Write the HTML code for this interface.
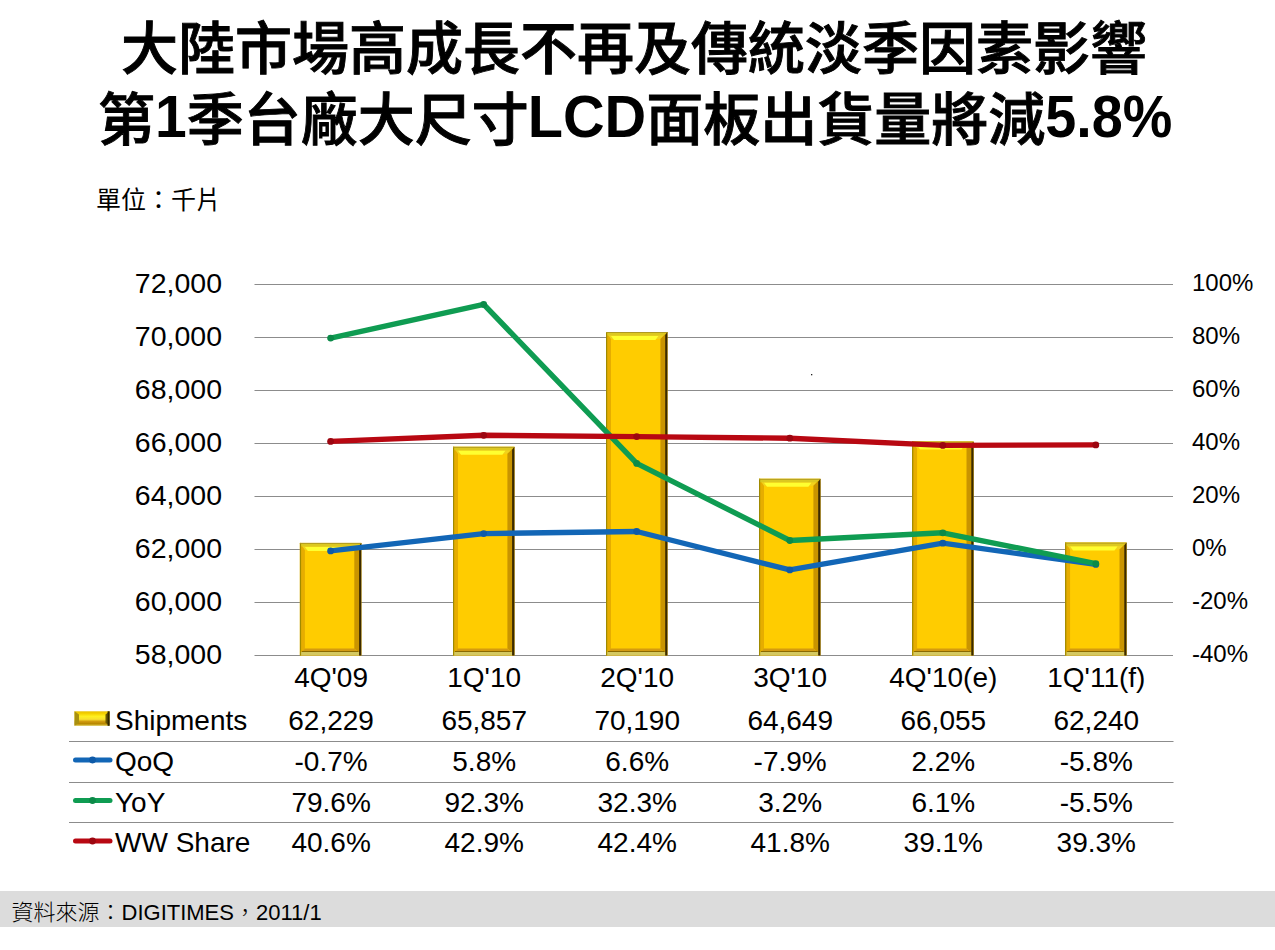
<!DOCTYPE html>
<html><head><meta charset="utf-8"><title>LCD shipments</title>
<style>
html,body{margin:0;padding:0;background:#fff;}
body{width:1275px;height:950px;overflow:hidden;position:relative;}
svg{position:absolute;left:0;top:0;}
.n{font-family:"Liberation Sans",Arial,sans-serif;font-size:28px;fill:#000;}
.ax{font-size:28.5px;}
.rx{font-size:24px;}
.ttl{font-family:"Liberation Sans","Noto Sans CJK TC",sans-serif;font-size:57px;font-weight:500;fill:#000;stroke:#000;stroke-width:0.9px;}
.lb{font-weight:700;stroke-width:0;font-size:60px;}
.unit{font-family:"Liberation Sans","Noto Sans CJK TC",sans-serif;font-size:25px;fill:#000;}
.src{font-family:"Liberation Sans","Noto Sans CJK TC",sans-serif;font-size:22px;fill:#000;}
.srcc{font-family:"Liberation Sans","Noto Sans CJK TC",sans-serif;font-size:22px;font-weight:300;fill:#000;}
</style></head><body>
<svg width="1275" height="950" viewBox="0 0 1275 950">
<defs>
<linearGradient id="legbar" x1="0" y1="0" x2="0" y2="1"><stop offset="0" stop-color="#e8c000"/><stop offset="0.15" stop-color="#f4d000"/><stop offset="0.35" stop-color="#fff020"/><stop offset="0.55" stop-color="#f8e030"/><stop offset="0.7" stop-color="#d09a10"/><stop offset="0.85" stop-color="#b88800"/><stop offset="1" stop-color="#d8c040"/></linearGradient>
</defs>
<text class="ttl" x="121" y="69">大陸市場高成長不再及傳統淡季因素影響</text>
<text class="ttl" x="98" y="140.3">第<tspan class="lb" dy="-3.8" textLength="31.7" lengthAdjust="spacingAndGlyphs">1</tspan><tspan dy="3.8">季台廠大尺寸</tspan><tspan class="lb" dx="-1" dy="-3.8" textLength="118.5" lengthAdjust="spacingAndGlyphs">LCD</tspan><tspan dy="3.8">面板出貨量將減</tspan><tspan class="lb" dy="-3.8" textLength="127" lengthAdjust="spacingAndGlyphs">5.8%</tspan></text>
<text class="unit" x="96" y="208.5">單位：千片</text>
<line x1="254.5" y1="284.5" x2="1173" y2="284.5" stroke="#8c8c8c" stroke-width="1.2"/>
<line x1="254.5" y1="337.5" x2="1173" y2="337.5" stroke="#8c8c8c" stroke-width="1.2"/>
<line x1="254.5" y1="390.5" x2="1173" y2="390.5" stroke="#8c8c8c" stroke-width="1.2"/>
<line x1="254.5" y1="443.5" x2="1173" y2="443.5" stroke="#8c8c8c" stroke-width="1.2"/>
<line x1="254.5" y1="496.5" x2="1173" y2="496.5" stroke="#8c8c8c" stroke-width="1.2"/>
<line x1="254.5" y1="549.5" x2="1173" y2="549.5" stroke="#8c8c8c" stroke-width="1.2"/>
<line x1="254.5" y1="602.5" x2="1173" y2="602.5" stroke="#8c8c8c" stroke-width="1.2"/>
<line x1="254.5" y1="655.5" x2="1173" y2="655.5" stroke="#8c8c8c" stroke-width="1.2"/>
<line x1="69" y1="741.5" x2="1173.5" y2="741.5" stroke="#8c8c8c" stroke-width="1.2"/>
<line x1="69" y1="782.5" x2="1173.5" y2="782.5" stroke="#8c8c8c" stroke-width="1.2"/>
<line x1="69" y1="822.5" x2="1173.5" y2="822.5" stroke="#8c8c8c" stroke-width="1.2"/>
<g><rect x="299.9" y="542.9" width="61.4" height="112.6" fill="#ffcc00"/><polygon points="299.9,542.9 304.9,547.9 304.9,650.5 299.9,655.5" fill="#e6ad00"/><polygon points="299.9,542.9 361.3,542.9 354.3,549.9 304.9,549.9" fill="#f2d21c"/><rect x="300.9" y="543.4" width="58.4" height="3" fill="#dcc820"/><polygon points="304.9,546.9 352.3,546.9 349.3,550.9 307.9,550.9" fill="#ffff30"/><polygon points="361.3,542.9 361.3,655.5 354.3,648.5 354.3,549.9" fill="#c99400"/><polygon points="299.9,655.5 361.3,655.5 354.3,648.5 304.9,648.5" fill="#d49a10"/><rect x="300.9" y="652.0" width="58.4" height="3.5" fill="#d4c860"/><line x1="301.9" y1="651.5" x2="358.3" y2="651.5" stroke="#8a6a00" stroke-width="1"/><line x1="300.5" y1="542.9" x2="300.5" y2="655.5" stroke="#a08a00" stroke-width="1.2"/><line x1="299.9" y1="543.4" x2="361.3" y2="543.4" stroke="#b09a20" stroke-width="1"/><polygon points="359.1,545.9 361.3,542.9 361.3,655.5 359.1,655.5" fill="#3a2a00"/></g>
<g><rect x="453.0" y="446.8" width="61.4" height="208.7" fill="#ffcc00"/><polygon points="453.0,446.8 458.0,451.8 458.0,650.5 453.0,655.5" fill="#e6ad00"/><polygon points="453.0,446.8 514.4,446.8 507.4,453.8 458.0,453.8" fill="#f2d21c"/><rect x="454.0" y="447.3" width="58.4" height="3" fill="#dcc820"/><polygon points="458.0,450.8 505.4,450.8 502.4,454.8 461.0,454.8" fill="#ffff30"/><polygon points="514.4,446.8 514.4,655.5 507.4,648.5 507.4,453.8" fill="#c99400"/><polygon points="453.0,655.5 514.4,655.5 507.4,648.5 458.0,648.5" fill="#d49a10"/><rect x="454.0" y="652.0" width="58.4" height="3.5" fill="#d4c860"/><line x1="455.0" y1="651.5" x2="511.4" y2="651.5" stroke="#8a6a00" stroke-width="1"/><line x1="453.6" y1="446.8" x2="453.6" y2="655.5" stroke="#a08a00" stroke-width="1.2"/><line x1="453.0" y1="447.3" x2="514.4" y2="447.3" stroke="#b09a20" stroke-width="1"/><polygon points="512.1,449.8 514.4,446.8 514.4,655.5 512.1,655.5" fill="#3a2a00"/></g>
<g><rect x="606.0" y="332.0" width="61.4" height="323.5" fill="#ffcc00"/><polygon points="606.0,332.0 611.0,337.0 611.0,650.5 606.0,655.5" fill="#e6ad00"/><polygon points="606.0,332.0 667.4,332.0 660.4,339.0 611.0,339.0" fill="#f2d21c"/><rect x="607.0" y="332.5" width="58.4" height="3" fill="#dcc820"/><polygon points="611.0,336.0 658.4,336.0 655.4,340.0 614.0,340.0" fill="#ffff30"/><polygon points="667.4,332.0 667.4,655.5 660.4,648.5 660.4,339.0" fill="#c99400"/><polygon points="606.0,655.5 667.4,655.5 660.4,648.5 611.0,648.5" fill="#d49a10"/><rect x="607.0" y="652.0" width="58.4" height="3.5" fill="#d4c860"/><line x1="608.0" y1="651.5" x2="664.4" y2="651.5" stroke="#8a6a00" stroke-width="1"/><line x1="606.6" y1="332.0" x2="606.6" y2="655.5" stroke="#a08a00" stroke-width="1.2"/><line x1="606.0" y1="332.5" x2="667.4" y2="332.5" stroke="#b09a20" stroke-width="1"/><polygon points="665.2,335.0 667.4,332.0 667.4,655.5 665.2,655.5" fill="#3a2a00"/></g>
<g><rect x="759.0" y="478.8" width="61.4" height="176.7" fill="#ffcc00"/><polygon points="759.0,478.8 764.0,483.8 764.0,650.5 759.0,655.5" fill="#e6ad00"/><polygon points="759.0,478.8 820.4,478.8 813.4,485.8 764.0,485.8" fill="#f2d21c"/><rect x="760.0" y="479.3" width="58.4" height="3" fill="#dcc820"/><polygon points="764.0,482.8 811.4,482.8 808.4,486.8 767.0,486.8" fill="#ffff30"/><polygon points="820.4,478.8 820.4,655.5 813.4,648.5 813.4,485.8" fill="#c99400"/><polygon points="759.0,655.5 820.4,655.5 813.4,648.5 764.0,648.5" fill="#d49a10"/><rect x="760.0" y="652.0" width="58.4" height="3.5" fill="#d4c860"/><line x1="761.0" y1="651.5" x2="817.4" y2="651.5" stroke="#8a6a00" stroke-width="1"/><line x1="759.6" y1="478.8" x2="759.6" y2="655.5" stroke="#a08a00" stroke-width="1.2"/><line x1="759.0" y1="479.3" x2="820.4" y2="479.3" stroke="#b09a20" stroke-width="1"/><polygon points="818.2,481.8 820.4,478.8 820.4,655.5 818.2,655.5" fill="#3a2a00"/></g>
<g><rect x="912.1" y="441.5" width="61.4" height="214.0" fill="#ffcc00"/><polygon points="912.1,441.5 917.1,446.5 917.1,650.5 912.1,655.5" fill="#e6ad00"/><polygon points="912.1,441.5 973.5,441.5 966.5,448.5 917.1,448.5" fill="#f2d21c"/><rect x="913.1" y="442.0" width="58.4" height="3" fill="#dcc820"/><polygon points="917.1,445.5 964.5,445.5 961.5,449.5 920.1,449.5" fill="#ffff30"/><polygon points="973.5,441.5 973.5,655.5 966.5,648.5 966.5,448.5" fill="#c99400"/><polygon points="912.1,655.5 973.5,655.5 966.5,648.5 917.1,648.5" fill="#d49a10"/><rect x="913.1" y="652.0" width="58.4" height="3.5" fill="#d4c860"/><line x1="914.1" y1="651.5" x2="970.5" y2="651.5" stroke="#8a6a00" stroke-width="1"/><line x1="912.7" y1="441.5" x2="912.7" y2="655.5" stroke="#a08a00" stroke-width="1.2"/><line x1="912.1" y1="442.0" x2="973.5" y2="442.0" stroke="#b09a20" stroke-width="1"/><polygon points="971.3,444.5 973.5,441.5 973.5,655.5 971.3,655.5" fill="#3a2a00"/></g>
<g><rect x="1065.1" y="542.6" width="61.4" height="112.9" fill="#ffcc00"/><polygon points="1065.1,542.6 1070.1,547.6 1070.1,650.5 1065.1,655.5" fill="#e6ad00"/><polygon points="1065.1,542.6 1126.5,542.6 1119.5,549.6 1070.1,549.6" fill="#f2d21c"/><rect x="1066.1" y="543.1" width="58.4" height="3" fill="#dcc820"/><polygon points="1070.1,546.6 1117.5,546.6 1114.5,550.6 1073.1,550.6" fill="#ffff30"/><polygon points="1126.5,542.6 1126.5,655.5 1119.5,648.5 1119.5,549.6" fill="#c99400"/><polygon points="1065.1,655.5 1126.5,655.5 1119.5,648.5 1070.1,648.5" fill="#d49a10"/><rect x="1066.1" y="652.0" width="58.4" height="3.5" fill="#d4c860"/><line x1="1067.1" y1="651.5" x2="1123.5" y2="651.5" stroke="#8a6a00" stroke-width="1"/><line x1="1065.7" y1="542.6" x2="1065.7" y2="655.5" stroke="#a08a00" stroke-width="1.2"/><line x1="1065.1" y1="543.1" x2="1126.5" y2="543.1" stroke="#b09a20" stroke-width="1"/><polygon points="1124.3,545.6 1126.5,542.6 1126.5,655.5 1124.3,655.5" fill="#3a2a00"/></g>
<polyline points="330.6,550.9 483.7,533.6 636.7,531.5 789.8,569.9 942.8,543.2 1095.8,564.4" fill="none" stroke="#1266b6" stroke-width="5.4" stroke-linejoin="round" stroke-linecap="round"/>
<circle cx="330.6" cy="550.9" r="3.4" fill="#0e5aa8"/><circle cx="483.7" cy="533.6" r="3.4" fill="#0e5aa8"/><circle cx="636.7" cy="531.5" r="3.4" fill="#0e5aa8"/><circle cx="789.8" cy="569.9" r="3.4" fill="#0e5aa8"/><circle cx="942.8" cy="543.2" r="3.4" fill="#0e5aa8"/><circle cx="1095.8" cy="564.4" r="3.4" fill="#0e5aa8"/>
<polyline points="330.6,338.1 483.7,304.4 636.7,463.4 789.8,540.5 942.8,532.8 1095.8,563.6" fill="none" stroke="#0f9c52" stroke-width="5.4" stroke-linejoin="round" stroke-linecap="round"/>
<circle cx="330.6" cy="338.1" r="3.4" fill="#0b8a48"/><circle cx="483.7" cy="304.4" r="3.4" fill="#0b8a48"/><circle cx="636.7" cy="463.4" r="3.4" fill="#0b8a48"/><circle cx="789.8" cy="540.5" r="3.4" fill="#0b8a48"/><circle cx="942.8" cy="532.8" r="3.4" fill="#0b8a48"/><circle cx="1095.8" cy="563.6" r="3.4" fill="#0b8a48"/>
<polyline points="330.6,441.4 483.7,435.3 636.7,436.6 789.8,438.2 942.8,445.4 1095.8,444.9" fill="none" stroke="#b80812" stroke-width="5.4" stroke-linejoin="round" stroke-linecap="round"/>
<circle cx="330.6" cy="441.4" r="3.4" fill="#9c0610"/><circle cx="483.7" cy="435.3" r="3.4" fill="#9c0610"/><circle cx="636.7" cy="436.6" r="3.4" fill="#9c0610"/><circle cx="789.8" cy="438.2" r="3.4" fill="#9c0610"/><circle cx="942.8" cy="445.4" r="3.4" fill="#9c0610"/><circle cx="1095.8" cy="444.9" r="3.4" fill="#9c0610"/>
<rect x="811" y="374" width="1.3" height="1.3" fill="#222"/>
<text class="n ax" x="222" y="293.3" text-anchor="end">72,000</text>
<text class="n ax" x="222" y="346.3" text-anchor="end">70,000</text>
<text class="n ax" x="222" y="399.3" text-anchor="end">68,000</text>
<text class="n ax" x="222" y="452.3" text-anchor="end">66,000</text>
<text class="n ax" x="222" y="505.3" text-anchor="end">64,000</text>
<text class="n ax" x="222" y="558.3" text-anchor="end">62,000</text>
<text class="n ax" x="222" y="611.3" text-anchor="end">60,000</text>
<text class="n ax" x="222" y="664.3" text-anchor="end">58,000</text>
<text class="n rx" x="1192" y="291.3">100%</text>
<text class="n rx" x="1192" y="344.3">80%</text>
<text class="n rx" x="1192" y="397.3">60%</text>
<text class="n rx" x="1192" y="450.3">40%</text>
<text class="n rx" x="1192" y="503.3">20%</text>
<text class="n rx" x="1192" y="556.3">0%</text>
<text class="n rx" x="1192" y="609.3">-20%</text>
<text class="n rx" x="1192" y="662.3">-40%</text>
<text class="n" x="331.1" y="687.0" text-anchor="middle">4Q'09</text>
<text class="n" x="484.2" y="687.0" text-anchor="middle">1Q'10</text>
<text class="n" x="637.2" y="687.0" text-anchor="middle">2Q'10</text>
<text class="n" x="790.2" y="687.0" text-anchor="middle">3Q'10</text>
<text class="n" x="943.3" y="687.0" text-anchor="middle">4Q'10(e)</text>
<text class="n" x="1096.3" y="687.0" text-anchor="middle">1Q'11(f)</text>
<text class="n" x="331.1" y="730.0" text-anchor="middle">62,229</text>
<text class="n" x="484.2" y="730.0" text-anchor="middle">65,857</text>
<text class="n" x="637.2" y="730.0" text-anchor="middle">70,190</text>
<text class="n" x="790.2" y="730.0" text-anchor="middle">64,649</text>
<text class="n" x="943.3" y="730.0" text-anchor="middle">66,055</text>
<text class="n" x="1096.3" y="730.0" text-anchor="middle">62,240</text>
<text class="n" x="331.1" y="770.5" text-anchor="middle">-0.7%</text>
<text class="n" x="484.2" y="770.5" text-anchor="middle">5.8%</text>
<text class="n" x="637.2" y="770.5" text-anchor="middle">6.6%</text>
<text class="n" x="790.2" y="770.5" text-anchor="middle">-7.9%</text>
<text class="n" x="943.3" y="770.5" text-anchor="middle">2.2%</text>
<text class="n" x="1096.3" y="770.5" text-anchor="middle">-5.8%</text>
<text class="n" x="331.1" y="811.5" text-anchor="middle">79.6%</text>
<text class="n" x="484.2" y="811.5" text-anchor="middle">92.3%</text>
<text class="n" x="637.2" y="811.5" text-anchor="middle">32.3%</text>
<text class="n" x="790.2" y="811.5" text-anchor="middle">3.2%</text>
<text class="n" x="943.3" y="811.5" text-anchor="middle">6.1%</text>
<text class="n" x="1096.3" y="811.5" text-anchor="middle">-5.5%</text>
<text class="n" x="331.1" y="851.5" text-anchor="middle">40.6%</text>
<text class="n" x="484.2" y="851.5" text-anchor="middle">42.9%</text>
<text class="n" x="637.2" y="851.5" text-anchor="middle">42.4%</text>
<text class="n" x="790.2" y="851.5" text-anchor="middle">41.8%</text>
<text class="n" x="943.3" y="851.5" text-anchor="middle">39.1%</text>
<text class="n" x="1096.3" y="851.5" text-anchor="middle">39.3%</text>
<text class="n" x="115" y="730">Shipments</text>
<text class="n" x="115" y="770.5">QoQ</text>
<text class="n" x="115" y="811.5">YoY</text>
<text class="n" x="115" y="851.5">WW Share</text>
<rect x="74.5" y="711.3" width="35" height="14.5" fill="url(#legbar)"/><polygon points="74.5,711.3 79,714.5 79,722.8 74.5,725.8" fill="#a89010"/><polygon points="109.5,711.3 105.5,714.5 105.5,722.8 109.5,725.8" fill="#6a5800"/><rect x="107.6" y="711.3" width="1.9" height="14.5" fill="#2e2400"/>
<line x1="75.5" y1="760.0" x2="110" y2="760.0" stroke="#1266b6" stroke-width="5" stroke-linecap="round"/><circle cx="92.5" cy="760.0" r="3.4" fill="#0e5aa8"/>
<line x1="75.5" y1="800.5" x2="110" y2="800.5" stroke="#0f9c52" stroke-width="5" stroke-linecap="round"/><circle cx="92.5" cy="800.5" r="3.4" fill="#0b8a48"/>
<line x1="75.5" y1="841.0" x2="110" y2="841.0" stroke="#b80812" stroke-width="5" stroke-linecap="round"/><circle cx="92.5" cy="841.0" r="3.4" fill="#9c0610"/>
<rect x="0" y="891" width="1275" height="36" fill="#dcdcdc"/>
<text class="src" x="11.5" y="919.5"><tspan class="srcc">資料來源：</tspan>DIGITIMES<tspan class="srcc">，</tspan>2011/1</text>
</svg>
</body></html>
